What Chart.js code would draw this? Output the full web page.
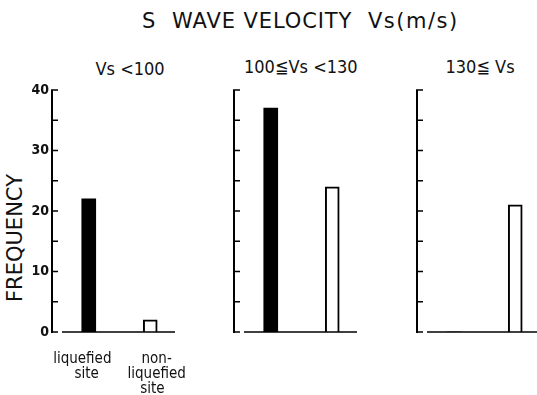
<!DOCTYPE html>
<html><head><meta charset="utf-8">
<script src="https://cdn.jsdelivr.net/npm/chart.js@4.4.1/dist/chart.umd.min.js"></script>
<style>
html,body{margin:0;padding:0;width:537px;height:395px;overflow:hidden;background:#fff;}
.t{position:absolute;font-family:'DejaVu Sans',sans-serif;color:#111;white-space:pre;line-height:1;}
.c{font-family:'DejaVu Sans Condensed','DejaVu Sans',sans-serif;font-stretch:condensed;}
canvas{position:absolute;top:0;}
</style></head><body>
<div class="t" style="left:142px;top:11px;font-size:21px;">S</div>
<div class="t" style="left:172px;top:11px;font-size:21px;letter-spacing:0.9px;">WAVE VELOCITY</div>
<div class="t" style="left:368px;top:11px;font-size:21px;letter-spacing:1.5px;">Vs(m/s)</div>
<div class="t c" id="sub0" style="top:60px;font-size:18px;"></div>
<div class="t c" id="sub1" style="top:58px;font-size:18px;"></div>
<div class="t c" id="sub2" style="top:58px;font-size:18px;"></div>
<div class="t" style="left:15px;top:238px;font-size:21px;transform:translate(-50%,-50%) rotate(-90deg);">FREQUENCY</div>
<canvas id="c0" width="200" height="395" style="left:0px"></canvas>
<canvas id="c1" width="182" height="395" style="left:182px"></canvas>
<canvas id="c2" width="182" height="395" style="left:365px"></canvas>
<script>
// ---- data ----
const groups = ['Vs <100', '100≦Vs <130', '130≦ Vs'];
const categories = [['liquefied', 'site'], ['non-', 'liquefied', 'site']];
const liquefied = [22, 37, 0];
const nonLiquefied = [2, 24, 21];
const yTicks = [0, 10, 20, 30, 40];
const yMinorTicks = [5, 15, 25, 35];

const subCenters = [130, 301, 480];
groups.forEach((g, i) => {
  const el = document.getElementById('sub' + i);
  el.textContent = g;
  el.style.left = (subCenters[i] - el.offsetWidth / 2) + 'px';
});

const axisPlugin = {
  id: 'handAxes',
  afterDraw(chart) {
    const { ctx, chartArea, scales: { y } } = chart;
    const ax = chartArea.left - 6;
    const y0 = y.getPixelForValue(yTicks[0]);
    const yTop = y.getPixelForValue(yTicks[yTicks.length - 1]);
    ctx.save();
    ctx.strokeStyle = '#000';
    ctx.lineWidth = 2;
    ctx.beginPath();
    ctx.moveTo(ax, y0 + 1);
    ctx.lineTo(ax, yTop);
    ctx.stroke();
    ctx.lineWidth = 1.6;
    ctx.beginPath();
    [...yTicks, ...yMinorTicks].forEach(v => {
      const py = y.getPixelForValue(v);
      ctx.moveTo(ax - 1, py);
      ctx.lineTo(ax + 6, py);
    });
    ctx.stroke();
    ctx.lineWidth = 1.6;
    ctx.beginPath();
    ctx.moveTo(chartArea.left + 4, y0);
    ctx.lineTo(chartArea.right - 6, y0);
    ctx.stroke();
    ctx.restore();
  }
};

// small per-line nudges of the category labels (in spaces), as hand-lettered in the source
const labelNudge = [[3, 1], [3, 3, 1]];

groups.forEach((g, i) => {
  const first = i === 0;
  const cv = document.getElementById('c' + i);
  new Chart(cv, {
    type: 'bar',
    data: {
      labels: categories,
      datasets: [{
        label: g,
        data: [liquefied[i], nonLiquefied[i]],
        backgroundColor: ['#000', '#fff'],
        borderColor: '#000',
        borderWidth: [0, 2],
        borderSkipped: 'start',
        barThickness: 14
      }]
    },
    options: {
      responsive: false,
      animation: false,
      devicePixelRatio: 1,
      layout: { padding: { top: 90, right: cv.width - 58 - 123, left: 0, bottom: 0 } },
      plugins: { legend: { display: false }, tooltip: { enabled: false }, title: { display: false } },
      scales: {
        x: {
          offset: true,
          grid: { display: false, drawTicks: false },
          border: { display: false },
          ticks: {
            display: first,
            autoSkip: false, maxRotation: 0, minRotation: 0,
            padding: 20,
            color: '#111',
            font: { family: "'DejaVu Sans Condensed','DejaVu Sans',sans-serif", size: 15, lineHeight: 1.0 },
            callback(value, index) {
              const lines = this.getLabelForValue(value);
              return lines.map((l, k) => {
                const sp = ' '.repeat(labelNudge[index][k] || 0);
                return index === 0 ? l + sp : sp + l;
              });
            }
          },
          afterFit(s) { s.height = 63; s.paddingLeft = 0; s.paddingRight = 0; }
        },
        y: {
          min: 0, max: 40,
          grid: { display: false, drawTicks: false },
          border: { display: false },
          ticks: {
            display: first,
            stepSize: 10,
            padding: 9,
            color: '#111',
            font: { family: "'DejaVu Sans Condensed','DejaVu Sans',sans-serif", size: 14, weight: 'bold' }
          },
          afterFit(s) { s.width = 58; s.paddingTop = 0; s.paddingBottom = 0; }
        }
      }
    },
    plugins: [axisPlugin]
  });
});
</script>
</body></html>
